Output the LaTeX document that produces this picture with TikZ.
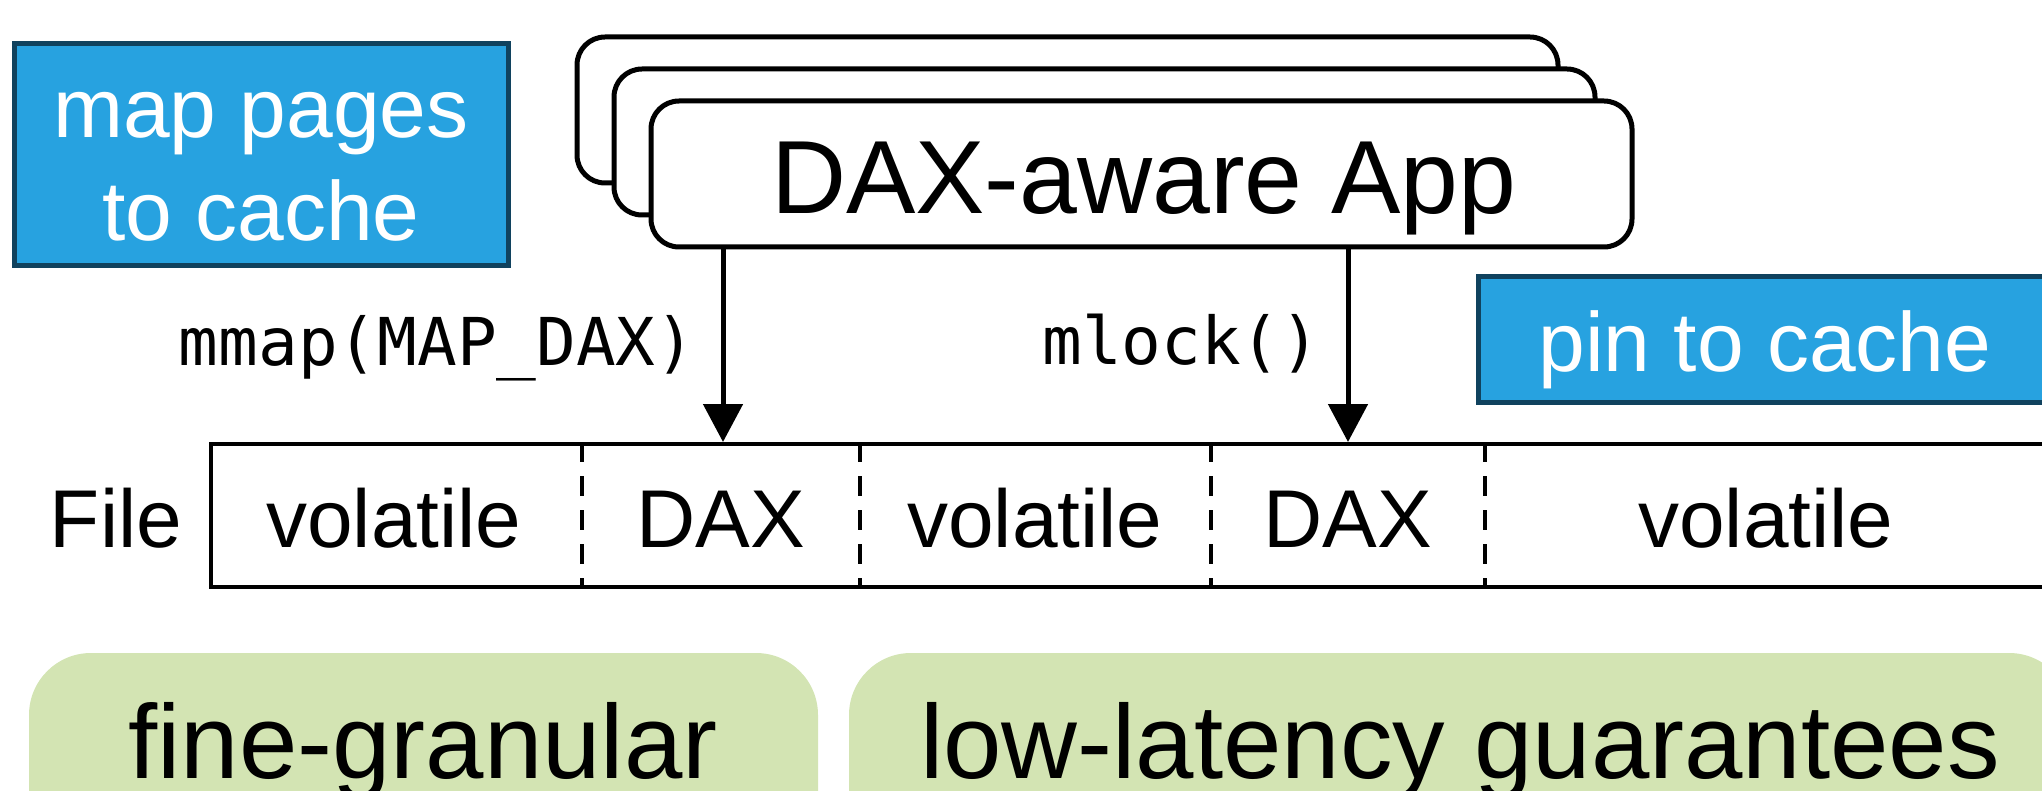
\documentclass[tikz,border=0pt]{standalone}
\usepackage{fontspec}
\setmainfont{Liberation Sans}
\newfontfamily\codefont{DejaVu Sans Mono}
\usetikzlibrary{arrows.meta}
\definecolor{cacheblue}{RGB}{39,162,224}
\definecolor{cacheborder}{RGB}{16,66,94}
\definecolor{greenfill}{RGB}{211,228,179}
\begin{document}
\begin{tikzpicture}[x=1pt,y=-1pt,
  bluebox/.style={fill=cacheblue, draw=cacheborder, line width=5pt, inner sep=0pt},
  appbox/.style={fill=white, draw=black, line width=5pt, rounded corners=28pt, inner sep=0pt, minimum width=981pt, minimum height=146pt},
  greenbox/.style={fill=greenfill, rounded corners=62pt, inner sep=0pt},
  filebox/.style={draw=black, line width=4pt, inner sep=0pt},
  divider/.style={line width=4pt, dash pattern=on 20pt off 14pt},
  callarrow/.style={line width=5pt, -{Triangle[width=39pt,length=38pt]}},
  celltext/.style={font=\fontsize{82}{90}\selectfont, anchor=base},
  bluetext/.style={font=\fontsize{84}{90}\selectfont, text=white, anchor=base},
  codetext/.style={font=\codefont\fontsize{66}{70}\selectfont, anchor=base east},
  greentext/.style={font=\fontsize{105}{110}\selectfont, anchor=base}]
\useasboundingbox (0,0) rectangle (2042,791);
\clip (0,0) rectangle (2042,791);
% map pages box
\node[bluebox, minimum width=494pt, minimum height=222pt] (mapbox) at (261,155) {};
\node[bluetext] (maptxt1) at (261,138) {map pages};
\node[bluetext] (maptxt2) at (261,241) {to cache};
% stacked apps
\node[appbox] (app3) at (1067.5,110) {};
\node[appbox] (app2) at (1104.5,142) {};
\node[appbox] (app) at (1141.5,174) {};
\node[font=\fontsize{104}{110}\selectfont, anchor=base] (apptxt) at (1144,214) {DAX-aware App};
% pin box
\node[bluebox, minimum width=582pt, minimum height=125pt] (pinbox) at (1769,339.5) {};
\node[bluetext, anchor=base west] (pintxt) at (1535,371) {pin to cache};
% file
\node[filebox, minimum width=1849pt, minimum height=143pt] (file) at (1135.5,515.5) {};
\node[celltext] (filelbl) at (116,547) {File};
\coordinate (d1) at (582,0);
\coordinate (d2) at (860,0);
\coordinate (d3) at (1211,0);
\coordinate (d4) at (1485,0);
\draw[divider] (file.north -| d1) -- (file.south -| d1);
\draw[divider] (file.north -| d2) -- (file.south -| d2);
\draw[divider] (file.north -| d3) -- (file.south -| d3);
\draw[divider] (file.north -| d4) -- (file.south -| d4);
\node[celltext] (c1) at (394,547) {volatile};
\node[celltext] (c2) at (721,547) {DAX};
\node[celltext] (c3) at (1035,547) {volatile};
\node[celltext] (c4) at (1348,547) {DAX};
\node[celltext] (c5) at (1766,547) {volatile};
% arrows
\coordinate (a1) at (723,0);
\coordinate (a2) at (1348,0);
\draw[callarrow] (app.south -| a1) -- (file.north -| a1);
\draw[callarrow] (app.south -| a2) -- (file.north -| a2);
\node[codetext] (mmaplbl) at (699,366) {mmap(MAP\_DAX)};
\node[codetext] (mlocklbl) at (1324,364) {mlock()};
% green boxes
\node[greenbox, minimum width=789pt, minimum height=200pt] (fine) at (423.5,753) {};
\node[greenbox, minimum width=1222pt, minimum height=200pt] (low) at (1460,753) {};
\node[greentext] (finetxt) at (423,778) {fine-granular};
\node[greentext] (lowtxt) at (1460,778) {low-latency guarantees};
\end{tikzpicture}
\end{document}
